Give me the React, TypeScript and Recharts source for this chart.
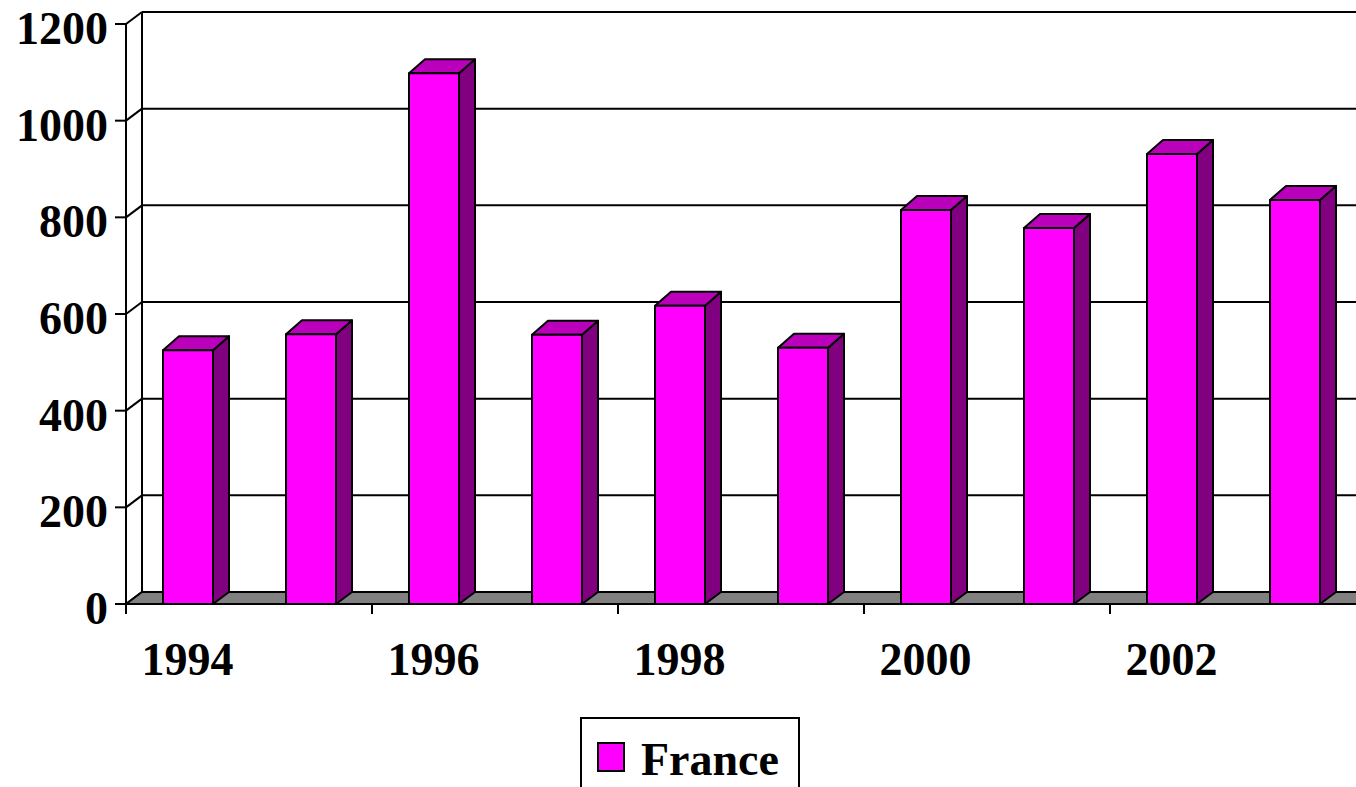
import React from "react";
import { BarChart, Bar, XAxis, YAxis, CartesianGrid, Legend } from "recharts";

const years = ["1994", "1995", "1996", "1997", "1998", "1999", "2000", "2001", "2002", "2003"];
const france = [525, 558, 1098, 557, 617, 530, 815, 778, 931, 836];
const yTicks = [0, 200, 400, 600, 800, 1000, 1200];

const data = years.map((year, i) => ({ year, France: france[i] }));

const FONT = "'Liberation Serif', 'Times New Roman', serif";
const DX = 16; // depth offset of the 3d box
const DY = 12;
const FRONT = "#ff00ff";
const SIDE = "#800080";
const TOP = "#bb00bb";
const ink = { stroke: "#000", strokeWidth: 2 };

function Box3D(props: any) {
  const { x, y, width: w, height: h } = props;
  if (h == null || w == null) return null;
  const top = `${x},${y} ${x + DX},${y - DY - 2} ${x + w + DX},${y - DY - 2} ${x + w},${y}`;
  const side = `${x + w},${y} ${x + w + DX},${y - DY - 2} ${x + w + DX},${y + h - DY} ${x + w},${y + h}`;
  return (
    <g strokeLinejoin="round">
      <polygon points={side} fill={SIDE} {...ink} />
      <polygon points={top} fill={TOP} {...ink} />
      <rect x={x} y={y} width={w} height={h} fill={FRONT} {...ink} />
    </g>
  );
}

// back wall gridlines, the little diagonals and the grey floor
function WallLine(p: any) {
  const y = p.y1;
  const bottom = p.y + p.height;
  const isFloor = Math.abs(y - bottom) < 1;
  return (
    <g key={p.key}>
      <line x1={p.x1} y1={y} x2={p.x1 + DX} y2={y - DY} {...ink} />
      {isFloor ? (
        <>
          <line x1={p.x1 + DX} y1={p.y - DY} x2={p.x1 + DX} y2={bottom - DY} {...ink} />
          <polygon
            points={`${p.x1},${y} ${p.x1 + DX},${y - DY} ${p.x2 + DX},${y - DY} ${p.x2},${y}`}
            fill="#808080"
            {...ink}
          />
        </>
      ) : (
        <line x1={p.x1 + DX} y1={y - DY} x2={p.x2 + DX} y2={y - DY} {...ink} />
      )}
    </g>
  );
}

function YTick(props: any) {
  const { x, y, payload } = props;
  return (
    <text x={x} y={y + 20} textAnchor="end" fontFamily={FONT} fontWeight="bold" fontSize={46} fill="#000">
      {payload.value}
    </text>
  );
}

function XTick(props: any) {
  const { x, y, payload } = props;
  const edge = x - (payload.offset || 0);
  return (
    <g>
      <line x1={edge} y1={y} x2={edge} y2={y + 10} {...ink} />
      <text x={x} y={y + 71} textAnchor="middle" fontFamily={FONT} fontWeight="bold" fontSize={46} fill="#000">
        {payload.value}
      </text>
    </g>
  );
}

function LegendBox() {
  return (
    <div
      style={{
        width: 220,
        height: 70,
        boxSizing: "border-box",
        border: "2px solid #000",
        borderBottom: "none",
        background: "#fff",
        display: "flex",
        alignItems: "flex-start",
        paddingTop: 21,
        paddingLeft: 15,
        fontFamily: FONT,
        fontWeight: "bold",
        fontSize: 46,
        lineHeight: "40px",
      }}
    >
      <span
        style={{
          width: 28,
          height: 30,
          boxSizing: "border-box",
          background: FRONT,
          border: "2px solid #000",
          marginRight: 16,
          marginTop: 2,
        }}
      />
      <span>France</span>
    </div>
  );
}

export default function App() {
  return (
    <div style={{ width: 1356, height: 787, background: "#fff", overflow: "hidden" }}>
      <style>{"body{margin:0;overflow:hidden;background:#fff}"}</style>
      <BarChart width={1356} height={787} data={data} margin={{ top: 24, right: 0, left: 0, bottom: 0 }}>
        <CartesianGrid vertical={false} horizontal={WallLine} />
        <XAxis
          dataKey="year"
          height={183}
          axisLine={false}
          tickLine={false}
          tickSize={0}
          tickMargin={0}
          interval={1}
          tick={<XTick />}
        />
        <YAxis
          type="number"
          domain={[0, 1200]}
          ticks={yTicks}
          width={126}
          tickSize={11}
          tickMargin={7}
          axisLine={ink}
          tickLine={ink}
          tick={<YTick />}
        />
        <Legend
          layout="horizontal"
          verticalAlign="middle"
          align="center"
          wrapperStyle={{ left: 580, top: 717, width: 220 }}
          content={() => <LegendBox />}
        />
        <Bar dataKey="France" name="France" barSize={50} shape={<Box3D />} isAnimationActive={false} />
      </BarChart>
    </div>
  );
}
